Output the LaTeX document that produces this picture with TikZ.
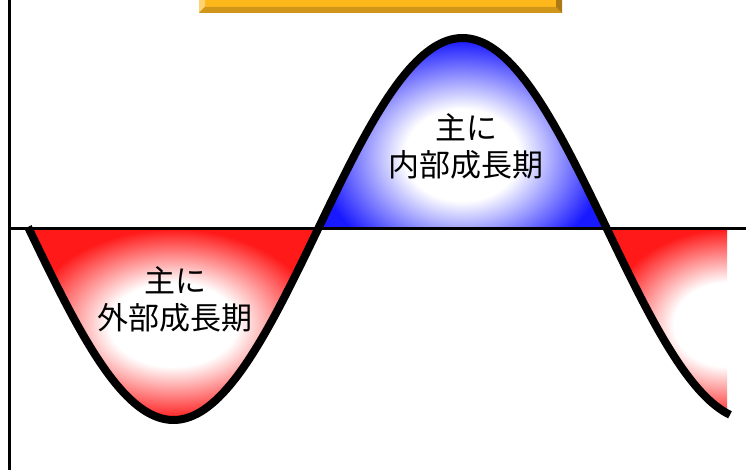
\documentclass[tikz,border=0pt]{standalone}
\usepackage{fontspec}
\newfontfamily\jpfont{Noto Sans CJK JP}

\definecolor{wavered}{RGB}{255,25,25}
\definecolor{waveblue}{RGB}{25,25,255}
\definecolor{gold}{RGB}{255,184,28}
\definecolor{goldlight}{RGB}{255,212,112}
\definecolor{golddark}{RGB}{208,150,26}
\definecolor{goldshadow}{RGB}{172,122,20}

\pgfdeclareradialshading{redglow}{\pgfpoint{0bp}{0bp}}%
{color(0bp)=(white); color(11bp)=(white); color(25bp)=(wavered); color(50bp)=(wavered)}
\pgfdeclareradialshading{blueglow}{\pgfpoint{0bp}{0bp}}%
{color(0bp)=(white); color(10bp)=(white); color(25bp)=(waveblue); color(50bp)=(waveblue)}

\def\wave#1{229-191*sin((#1-318)/289*180)}

\begin{document}
\begin{tikzpicture}[x=1pt,y=-1pt,
  waveline/.style={line width=8pt,line join=round},
  axisline/.style={line width=3pt},
  growthtext/.style={font=\jpfont\fontsize{31}{37}\selectfont,align=center}]

  \useasboundingbox (0,0) rectangle (746,470);

  % title bar, cut off at the top
  \fill[gold] (199,-30) rectangle (562,13);
  \fill[goldlight] (199,-30) -- (205,-30) -- (205,7) -- (199,13) -- cycle;
  \fill[golddark] (199,13) -- (205,7) -- (556,7) -- (562,13) -- cycle;
  \fill[goldshadow] (556,-30) -- (562,-30) -- (562,13) -- (556,7) -- cycle;

  % below the axis
  \begin{scope}
    \clip (28,229) -- plot[domain=28:318,samples=80] (\x,{\wave{\x}}) -- cycle;
    \shade[shading=redglow] (28,229) rectangle (318,420);
  \end{scope}

  % above the axis
  \begin{scope}
    \clip (318,229) -- plot[domain=318:606,samples=80] (\x,{\wave{\x}}) -- cycle;
    \shade[shading=blueglow] (318,40) rectangle (606,270);
  \end{scope}

  % right end, cut at the edge
  \begin{scope}
    \clip (606,229) -- plot[domain=606:727,samples=40] (\x,{\wave{\x}})
    -- (727,229) -- cycle;
    \shade[shading=redglow] (606,229) rectangle (848,420);
  \end{scope}

  \draw[axisline] (9,0) -- (9,470);
  \draw[axisline] (9,229) -- (746,229);

  \draw[waveline] plot[domain=28:730,samples=200] (\x,{\wave{\x}});

  \node[growthtext] (outerlabel) at (175,299) {主に\\外部成長期};
  \node[growthtext] (innerlabel) at (466,146) {主に\\内部成長期};

\end{tikzpicture}
\end{document}
